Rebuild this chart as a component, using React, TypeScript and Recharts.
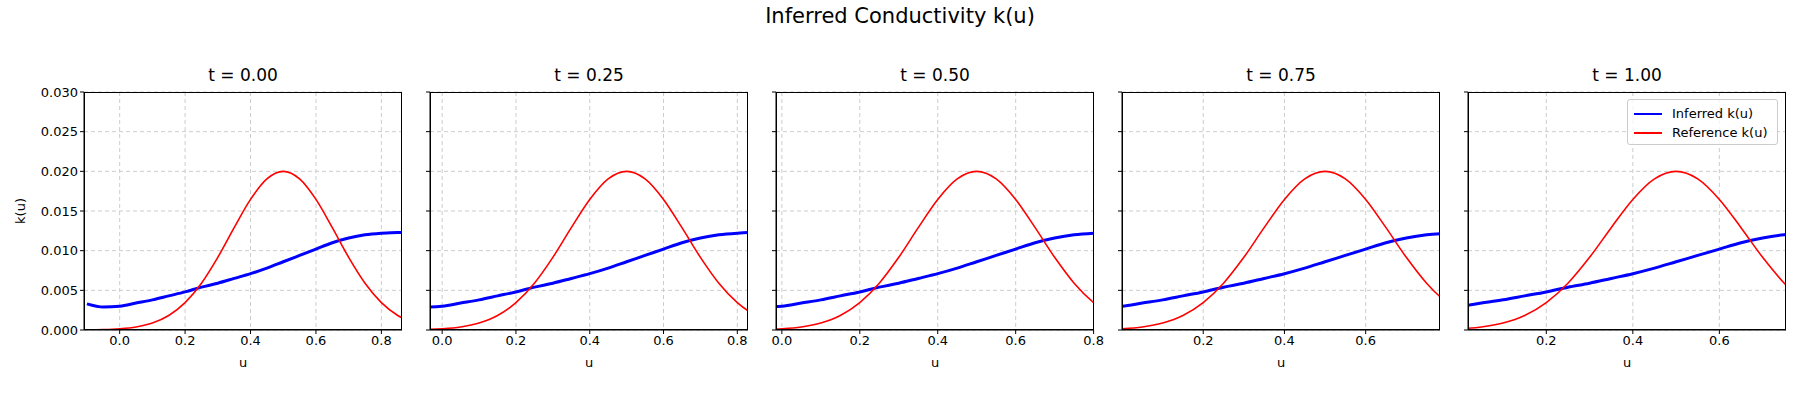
import React from 'react'
import { LineChart, Line, XAxis, YAxis, CartesianGrid } from 'recharts'

const timeLabels = ['t = 0.00', 't = 0.25', 't = 0.50', 't = 0.75', 't = 1.00']
const uDomains: [number, number][] = [
  [-0.109, 0.863],
  [-0.033, 0.829],
  [-0.015, 0.801],
  [0.0, 0.783],
  [0.019, 0.754],
]
const xTickSets = [
  [0, 0.2, 0.4, 0.6, 0.8],
  [0, 0.2, 0.4, 0.6, 0.8],
  [0, 0.2, 0.4, 0.6, 0.8],
  [0.2, 0.4, 0.6],
  [0.2, 0.4, 0.6],
]
const yTicks = [0, 0.005, 0.01, 0.015, 0.02, 0.025, 0.03]

const uValues = [-0.1, -0.05, 0, 0.05, 0.1, 0.15, 0.2, 0.25, 0.3, 0.35, 0.4, 0.45, 0.5, 0.55, 0.6, 0.65, 0.7, 0.75, 0.8, 0.85, 0.9]
const inferredK = [0.0033, 0.0029, 0.003, 0.0034, 0.0038, 0.0043, 0.0048, 0.0054, 0.0059, 0.0065, 0.0071, 0.0078, 0.0086, 0.0094, 0.0102, 0.011, 0.0116, 0.012, 0.0122, 0.0123, 0.0123]
const referenceK = [0.00002, 0.00005, 0.00015, 0.00038, 0.00088, 0.00183, 0.00345, 0.0059, 0.00916, 0.0129, 0.01646, 0.01905, 0.02, 0.01905, 0.01646, 0.0129, 0.00916, 0.0059, 0.00345, 0.00183, 0.00088]

const data = uValues.map((u, i) => ({ u, inferred: inferredK[i], reference: referenceK[i] }))

const FONT = '"DejaVu Sans", sans-serif'
const plotLefts = [84, 430, 776, 1122, 1468]
const plotW = 318
const plotTop = 92
const plotH = 238
const yAxisW = 60
const pad = 12

const tickStyle = { fill: '#000', fontSize: 13, fontFamily: FONT }

function Panel({ idx }: { idx: number }) {
  const left = plotLefts[idx]
  const first = idx === 0
  return (
    <>
      <div style={{ position: 'absolute', left, top: 65, width: plotW, textAlign: 'center', fontSize: 17, fontFamily: FONT }}>
        {timeLabels[idx]}
      </div>
      <div style={{ position: 'absolute', left: left - yAxisW, top: plotTop - pad }}>
        <LineChart width={plotW + yAxisW + pad} height={plotH + 40 + pad} data={data} margin={{ top: pad, right: pad, bottom: 0, left: 0 }}>
          <CartesianGrid stroke="#cccccc" strokeDasharray="4 3" verticalValues={xTickSets[idx]} horizontalValues={yTicks} />
          <XAxis
            dataKey="u"
            type="number"
            domain={uDomains[idx]}
            allowDataOverflow
            ticks={xTickSets[idx]}
            tickFormatter={(v: number) => v.toFixed(1)}
            tick={tickStyle}
            tickSize={4}
            height={40}
            stroke="#000"
          />
          <YAxis
            type="number"
            domain={[0, 0.03]}
            allowDataOverflow
            ticks={yTicks}
            tickFormatter={(v: number) => (first ? v.toFixed(3) : '')}
            tick={tickStyle}
            tickSize={4}
            width={yAxisW}
            stroke="#000"
          />
          <Line dataKey="inferred" type="monotone" stroke="#0000ff" strokeWidth={3} dot={false} isAnimationActive={false} />
          <Line dataKey="reference" type="monotone" stroke="#ff0000" strokeWidth={1.6} dot={false} isAnimationActive={false} />
        </LineChart>
      </div>
      <div style={{ position: 'absolute', left, top: plotTop, width: plotW, height: plotH, border: '1px solid #000', boxSizing: 'border-box', pointerEvents: 'none' }} />
      <div style={{ position: 'absolute', left, top: 355, width: plotW, textAlign: 'center', fontSize: 13, fontFamily: FONT }}>u</div>
    </>
  )
}

export default function App() {
  return (
    <div style={{ position: 'absolute', left: 0, top: 0, width: 1800, height: 400, background: '#fff', fontFamily: FONT }}>
      <div style={{ position: 'absolute', left: 0, top: 4, width: 1800, textAlign: 'center', fontSize: 21 }}>Inferred Conductivity k(u)</div>
      <div style={{ position: 'absolute', left: 8, top: 211, transform: 'translateY(-50%) rotate(-90deg)', fontSize: 13 }}>k(u)</div>
      {timeLabels.map((_, i) => (
        <Panel key={i} idx={i} />
      ))}
      <div style={{ position: 'absolute', left: 1627, top: 99, width: 151, height: 46, border: '1px solid #ccc', borderRadius: 3, background: 'rgba(255,255,255,0.8)', fontSize: 13, boxSizing: 'border-box', padding: '4px 6px' }}>
        <div style={{ display: 'flex', alignItems: 'center', height: 19 }}>
          <span style={{ display: 'inline-block', width: 28, height: 2, background: '#0000ff', marginRight: 10 }} />Inferred k(u)
        </div>
        <div style={{ display: 'flex', alignItems: 'center', height: 19 }}>
          <span style={{ display: 'inline-block', width: 28, height: 2, background: '#ff0000', marginRight: 10 }} />Reference k(u)
        </div>
      </div>
    </div>
  )
}
